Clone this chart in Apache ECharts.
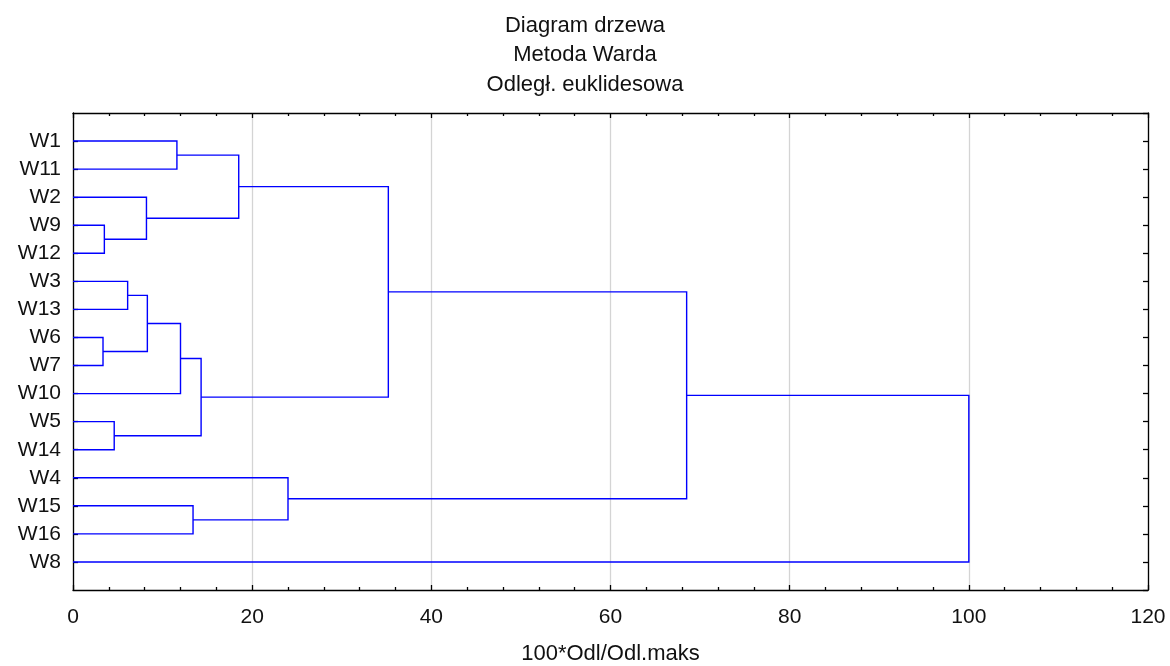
<!DOCTYPE html>
<html>
<head>
<meta charset="utf-8">
<script src="https://cdn.jsdelivr.net/npm/echarts@6/dist/echarts.min.js"></script>
<style>
  html, body { margin: 0; padding: 0; background: #fff; }
  #chart { width: 1170px; height: 666px; }
</style>
</head>
<body>
<div id="chart"></div>
<script>
// leaves from top to bottom
const leafNames = ['W1', 'W11', 'W2', 'W9', 'W12', 'W3', 'W13', 'W6', 'W7', 'W10', 'W5', 'W14', 'W4', 'W15', 'W16', 'W8'];

// merges (scipy style): node index 0..15 = leaves, 16.. = merged clusters
const mergeA = [0, 3, 2, 16, 5, 7, 20, 22, 10, 23, 19, 13, 12, 26, 29];
const mergeB = [1, 4, 17, 18, 6, 8, 21, 9, 11, 24, 25, 14, 27, 28, 15];
const mergeHeight = [11.6, 3.5, 8.2, 18.5, 6.1, 3.35, 8.3, 12.0, 4.6, 14.3, 35.2, 13.4, 24.0, 68.5, 100];

const xTicks = [0, 20, 40, 60, 80, 100, 120];

// position of each node: height (x) and row (y)
const nodeH = leafNames.map(() => 0);
const nodeY = leafNames.map((n, i) => i + 1);
const links = [];
for (let i = 0; i < mergeHeight.length; i++) {
  const a = mergeA[i], b = mergeB[i];
  links.push([nodeH[a], nodeY[a], nodeH[b], nodeY[b], mergeHeight[i]]);
  nodeH.push(mergeHeight[i]);
  nodeY.push((nodeY[a] + nodeY[b]) / 2);
}

const font = 'Liberation Sans, Arial, sans-serif';
const axisLine = { show: true, onZero: false, lineStyle: { color: '#000', width: 1.3 } };
const tick = { show: true, inside: true, length: 5, lineStyle: { color: '#000', width: 1.3 } };
const minor = { show: true, splitNumber: 5, length: 3, lineStyle: { color: '#000', width: 1.3 } };

const chart = echarts.init(document.getElementById('chart'));

const option = {
  animation: false,
  title: {
    text: 'Diagram drzewa\nMetoda Warda\nOdległ. euklidesowa',
    left: 'center',
    top: 11,
    padding: [0, 0, 0, 14],
    textStyle: {
      fontFamily: font,
      fontSize: 22,
      fontWeight: 'normal',
      color: '#111',
      lineHeight: 29.5,
      align: 'center'
    }
  },
  grid: { left: 73, right: 22, top: 113, bottom: 76, outerBoundsMode: 'none', containLabel: false },
  xAxis: [
    {
      type: 'value',
      min: xTicks[0],
      max: xTicks[xTicks.length - 1],
      interval: 20,
      name: '100*Odl/Odl.maks',
      nameLocation: 'middle',
      nameGap: 53,
      nameTextStyle: { fontFamily: font, fontSize: 22, color: '#111' },
      axisLine: axisLine,
      axisTick: tick,
      minorTick: minor,
      axisLabel: { fontFamily: font, fontSize: 21, color: '#111', margin: 17 },
      splitLine: { show: true, lineStyle: { color: '#d4d4d4', width: 1.3 } }
    },
    {
      type: 'value',
      position: 'top',
      min: xTicks[0],
      max: xTicks[xTicks.length - 1],
      interval: 20,
      axisLine: axisLine,
      axisTick: tick,
      minorTick: minor,
      axisLabel: { show: false },
      splitLine: { show: false }
    }
  ],
  yAxis: [
    {
      type: 'value',
      min: 0,
      max: leafNames.length + 1,
      interval: 1,
      inverse: true,
      axisLine: axisLine,
      axisTick: tick,
      axisLabel: {
        fontFamily: font,
        fontSize: 21,
        color: '#111',
        margin: 12,
        showMinLabel: false,
        showMaxLabel: false,
        formatter: v => leafNames[v - 1] || ''
      },
      splitLine: { show: false }
    },
    {
      type: 'value',
      position: 'right',
      min: 0,
      max: leafNames.length + 1,
      interval: 1,
      inverse: true,
      axisLine: axisLine,
      axisTick: tick,
      axisLabel: { show: false },
      splitLine: { show: false }
    }
  ],
  series: [
    {
      type: 'custom',
      xAxisIndex: 0,
      yAxisIndex: 0,
      encode: { x: [0, 2, 4], y: [1, 3] },
      data: links,
      renderItem: function (params, api) {
        const hA = api.value(0), yA = api.value(1);
        const hB = api.value(2), yB = api.value(3);
        const hP = api.value(4);
        return {
          type: 'polyline',
          shape: {
            points: [
              api.coord([hA, yA]),
              api.coord([hP, yA]),
              api.coord([hP, yB]),
              api.coord([hB, yB])
            ]
          },
          style: { stroke: '#0000ff', lineWidth: 1.4, fill: null }
        };
      }
    }
  ]
};

chart.setOption(option);
</script>
</body>
</html>
